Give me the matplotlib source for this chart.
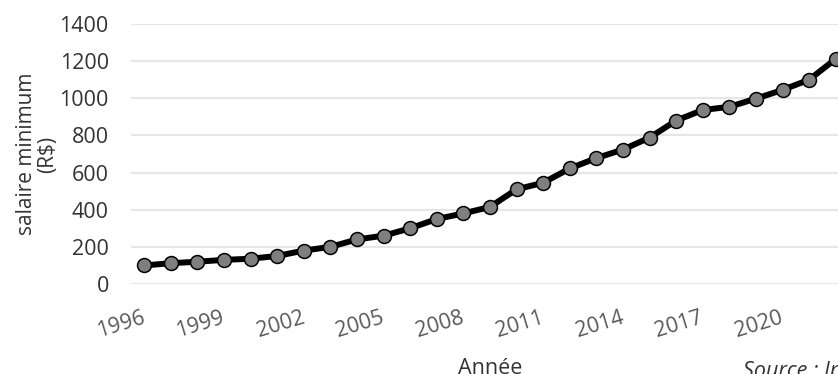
import matplotlib.pyplot as plt

# salaire minimum au Brésil (R$)
years = list(range(1996, 2023))
wage = [100, 112, 120, 130, 136, 151, 180, 200, 240, 260, 300, 350, 380, 415,
        510, 545, 622, 678, 724, 788, 880, 937, 954, 998, 1045, 1100, 1212]
y_ticks = [0, 200, 400, 600, 800, 1000, 1200, 1400]

plt.rcParams['font.family'] = ['Open Sans', 'DejaVu Sans']

W, H = 838, 374
fig = plt.figure(figsize=(W / 100, H / 100), dpi=100)
# axes in pixels: left 131, right 849 (beyond the edge, cropped like the source), top 24, bottom 284
ax = fig.add_axes([131 / W, (H - 284) / H, (849 - 131) / W, (284 - 24) / H])

pos = list(range(len(years)))
ax.plot(pos, wage, color='black', linewidth=4.3, marker='o', markersize=10,
        markerfacecolor='#7f7f7f', markeredgecolor='black', markeredgewidth=1.1,
        zorder=3, clip_on=False)

ax.set_xlim(-0.5, len(years) - 0.5)
ax.set_ylim(0, 1400)
ax.set_yticks(y_ticks)
ax.set_yticklabels([str(v) for v in y_ticks], fontsize=15.5, color='#333333')
ax.grid(axis='y', color='#e6e6e6', linewidth=1.6, zorder=0)
ax.set_axisbelow(True)

xt = pos[::3]
ax.set_xticks(xt)
ax.set_xticklabels([str(years[i]) for i in xt], rotation=17, ha='right',
                   va='center', rotation_mode='anchor', fontsize=15.5,
                   color='#595959')
ax.tick_params(axis='x', length=0, pad=24)
ax.tick_params(axis='y', length=0, pad=16)
for s in ax.spines.values():
    s.set_visible(False)

fig.text(37 / W, 1 - 154 / H, 'salaire minimum\n(R$)', rotation=90,
         ha='center', va='center', multialignment='center', fontsize=15,
         color='#333333', linespacing=1.05)
fig.text(490 / W, 1 - 369 / H, 'Année', ha='center', va='center',
         fontsize=15.5, color='#333333')
fig.text(743 / W, 1 - 371 / H, 'Source : Ipeadata', ha='left', va='center',
         fontsize=15.5, color='#333333', fontstyle='italic')

fig.savefig('out.png', dpi=100)
